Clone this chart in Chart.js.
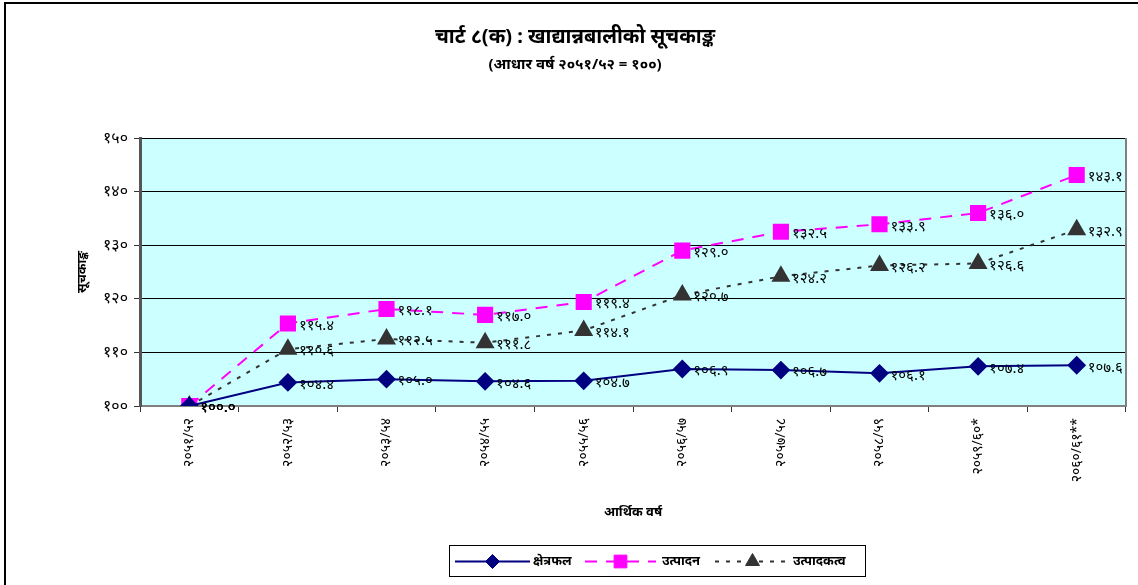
<!DOCTYPE html>
<html>
<head>
<meta charset="utf-8">
<title>चार्ट ८(क)</title>
<script src="https://cdn.jsdelivr.net/npm/chart.js@4.4.1/dist/chart.umd.min.js"></script>
<style>
    html, body { margin: 0; padding: 0; background: #ffffff; }
    #wrap { width: 1138px; height: 585px; }
</style>
</head>
<body>
<div id="wrap"><canvas id="indexChart" width="1138" height="585"></canvas></div>
<script>
// Chart data
const titleText = 'चार्ट ८(क) : खाद्यान्नबालीको सूचकाङ्क';
const subtitleText = '(आधार वर्ष २०५१/५२ = १००)';
const xAxisTitle = 'आर्थिक वर्ष';
const yAxisTitle = 'सूचकाङ्क';

const years = ['२०५१/५२', '२०५२/५३', '२०५३/५४', '२०५४/५५', '२०५५/५६',
               '२०५६/५७', '२०५७/५८', '२०५८/५९', '२०५९/६०*', '२०६०/६१**'];

const seriesNames = ['क्षेत्रफल', 'उत्पादन', 'उत्पादकत्व'];
const areaIndex = [100.0, 104.4, 105.0, 104.6, 104.7, 106.9, 106.7, 106.1, 107.4, 107.6];
const productionIndex = [100.0, 115.4, 118.1, 117.0, 119.4, 129.0, 132.5, 133.9, 136.0, 143.1];
const productivityIndex = [100.0, 110.6, 112.5, 111.8, 114.1, 120.7, 124.2, 126.2, 126.6, 132.9];

const yMin = 100;
const yMax = 150;
const yStep = 10;

const FONT = "'Noto Sans', 'Noto Sans Devanagari', 'Lohit Devanagari', 'FreeSans', sans-serif";

function toNepaliDigits(str) {
    const digits = ['०', '१', '२', '३', '४', '५', '६', '७', '८', '९'];
    return String(str).replace(/[0-9]/g, d => digits[+d]);
}

document.addEventListener('DOMContentLoaded', function() {
    initIndexChart();
});

function initIndexChart() {
    const canvas = document.getElementById('indexChart');
    if (!canvas) return;

    // plot background, frame and plot border
    const backgroundPlugin = {
        id: 'plotBackground',
        beforeDraw(chart) {
            const { ctx, chartArea: a } = chart;
            ctx.save();
            ctx.fillStyle = '#ffffff';
            ctx.fillRect(0, 0, chart.width, chart.height);
            ctx.fillStyle = '#ccffff';
            ctx.fillRect(a.left, a.top, a.right - a.left, a.bottom - a.top);
            // outer frame (left + top)
            ctx.strokeStyle = '#000000';
            ctx.lineWidth = 2;
            ctx.beginPath();
            ctx.moveTo(5, 585);
            ctx.lineTo(5, 3);
            ctx.lineTo(1138, 3);
            ctx.stroke();
            ctx.restore();
        },
        afterDraw(chart) {
            const { ctx, chartArea: a } = chart;
            ctx.save();
            ctx.strokeStyle = '#808080';
            ctx.lineWidth = 2;
            ctx.beginPath();
            ctx.moveTo(a.right, a.top);
            ctx.lineTo(a.right, a.bottom);
            ctx.stroke();
            ctx.restore();
        }
    };

    // titles, axis titles, value labels and legend
    const textPlugin = {
        id: 'chartTexts',
        afterDatasetsDraw(chart) {
            const { ctx } = chart;
            ctx.save();
            ctx.fillStyle = '#000000';
            ctx.textAlign = 'left';
            ctx.textBaseline = 'middle';
            ctx.font = '15px ' + FONT;
            chart.data.datasets.forEach((ds, i) => {
                const meta = chart.getDatasetMeta(i);
                meta.data.forEach((pt, j) => {
                    ctx.fillText(toNepaliDigits(ds.data[j].toFixed(1)), pt.x + 11, pt.y + 2);
                });
            });
            ctx.restore();
        },
        afterDraw(chart) {
            const { ctx, chartArea: a } = chart;
            const cx = 575;
            ctx.save();
            ctx.fillStyle = '#000000';
            ctx.textAlign = 'center';
            ctx.textBaseline = 'middle';
            ctx.font = 'bold 20px ' + FONT;
            ctx.fillText(titleText, cx, 37);
            ctx.font = 'bold 15px ' + FONT;
            ctx.fillText(subtitleText, cx, 65);

            ctx.font = 'bold 13px ' + FONT;
            ctx.fillText(xAxisTitle, (a.left + a.right) / 2, 512);

            ctx.save();
            ctx.translate(82, (a.top + a.bottom) / 2);
            ctx.rotate(-Math.PI / 2);
            ctx.fillText(yAxisTitle, 0, 0);
            ctx.restore();

            // legend box
            const lx = 449, ly = 545, lw = 416, lh = 31;
            ctx.strokeStyle = '#000000';
            ctx.lineWidth = 1;
            ctx.strokeRect(lx + 0.5, ly + 0.5, lw, lh);
            const items = [
                { x0: 455, x1: 530, tx: 533 },
                { x0: 585, x1: 656, tx: 662 },
                { x0: 715, x1: 790, tx: 793 }
            ];
            const my = ly + lh / 2 + 1;
            chart.data.datasets.forEach((ds, i) => {
                const it = items[i];
                ctx.save();
                ctx.strokeStyle = ds.borderColor;
                ctx.lineWidth = ds.borderWidth;
                ctx.setLineDash(ds.borderDash || []);
                ctx.beginPath();
                ctx.moveTo(it.x0, my);
                ctx.lineTo(it.x1, my);
                ctx.stroke();
                ctx.restore();
                ctx.fillStyle = ds.pointBackgroundColor;
                ctx.strokeStyle = ds.pointBorderColor;
                Chart.helpers.drawPoint(ctx, {
                    pointStyle: ds.pointStyle,
                    radius: ds.pointRadius - 1,
                    borderWidth: 1,
                    rotation: 0
                }, (it.x0 + it.x1) / 2, my);
                ctx.fillStyle = '#000000';
                ctx.textAlign = 'left';
                ctx.font = 'bold 13px ' + FONT;
                ctx.fillText(ds.label, it.tx, my);
            });
            ctx.restore();
        }
    };

    new Chart(canvas.getContext('2d'), {
        type: 'line',
        data: {
            labels: years,
            datasets: [{
                label: seriesNames[0],
                data: areaIndex,
                borderColor: '#000080',
                backgroundColor: '#000080',
                borderWidth: 2,
                pointStyle: 'rectRot',
                pointRadius: 8,
                pointBackgroundColor: '#000080',
                pointBorderColor: '#000080',
                tension: 0
            }, {
                label: seriesNames[1],
                data: productionIndex,
                borderColor: '#ff00ff',
                backgroundColor: '#ff00ff',
                borderWidth: 2,
                borderDash: [12, 9],
                pointStyle: 'rect',
                pointRadius: 10,
                pointBackgroundColor: '#ff00ff',
                pointBorderColor: '#ff00ff',
                tension: 0
            }, {
                label: seriesNames[2],
                data: productivityIndex,
                borderColor: '#333333',
                backgroundColor: '#333333',
                borderWidth: 2,
                borderDash: [4, 7],
                pointStyle: 'triangle',
                pointRadius: 9,
                pointBackgroundColor: '#333333',
                pointBorderColor: '#333333',
                tension: 0
            }]
        },
        options: {
            responsive: false,
            animation: false,
            layout: { padding: { left: 0, top: 138, right: 12, bottom: 0 } },
            plugins: {
                legend: { display: false },
                title: { display: false },
                tooltip: { enabled: false }
            },
            scales: {
                x: {
                    offset: true,
                    grid: {
                        offset: true,
                        drawOnChartArea: false,
                        drawTicks: true,
                        tickLength: 6,
                        tickColor: '#333333'
                    },
                    border: { display: true, color: '#808080', width: 2 },
                    ticks: {
                        color: '#000000',
                        font: { family: FONT, size: 14 },
                        minRotation: 90,
                        maxRotation: 90,
                        autoSkip: false,
                        padding: 6
                    },
                    afterFit(scale) { scale.height = 179; }
                },
                y: {
                    min: yMin,
                    max: yMax,
                    grid: {
                        color: '#000000',
                        lineWidth: 1,
                        drawTicks: true,
                        tickLength: 6,
                        tickColor: '#333333'
                    },
                    border: { display: true, color: '#555555', width: 3 },
                    ticks: {
                        stepSize: yStep,
                        color: '#000000',
                        font: { family: FONT, size: 16 },
                        padding: 6,
                        callback: v => toNepaliDigits(v)
                    },
                    afterFit(scale) { scale.width = 140; }
                }
            }
        },
        plugins: [backgroundPlugin, textPlugin]
    });
}
</script>
</body>
</html>
